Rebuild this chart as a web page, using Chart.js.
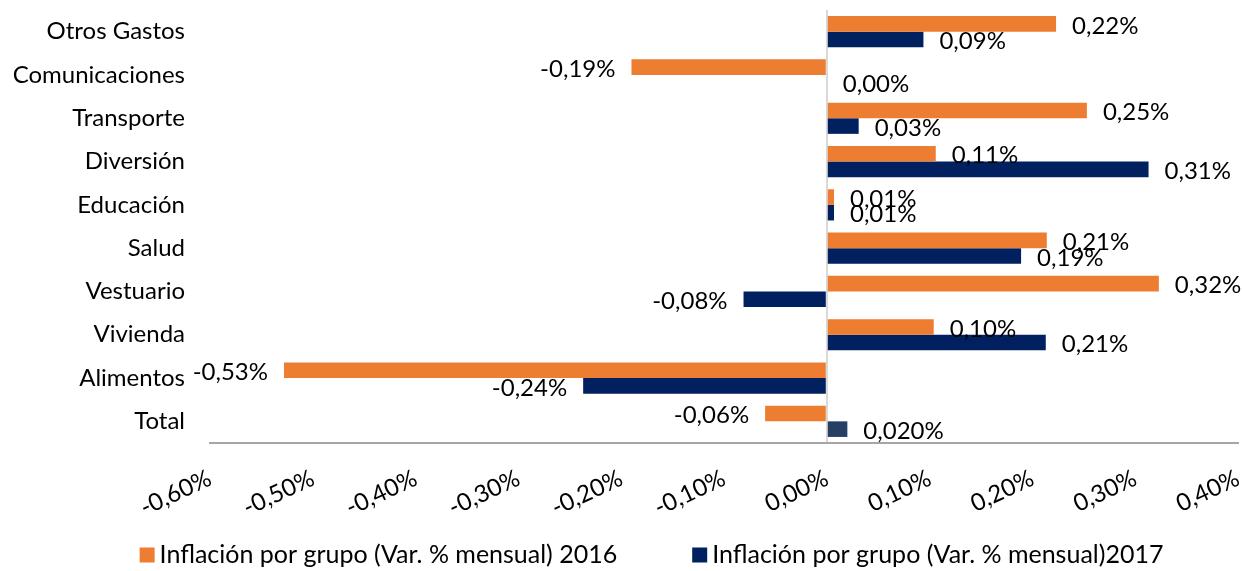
<!DOCTYPE html>
<html>
<head>
<meta charset="utf-8">
<script src="https://cdn.jsdelivr.net/npm/chart.js@4.4.1/dist/chart.umd.min.js"></script>
<style>
  html, body { margin: 0; padding: 0; background: #ffffff; }
  #wrap { width: 1243px; height: 571px; position: relative; }
</style>
</head>
<body>
<div id="wrap"><canvas id="c"></canvas></div>
<script>
const categories = ['Otros Gastos', 'Comunicaciones', 'Transporte', 'Diversión', 'Educación', 'Salud', 'Vestuario', 'Vivienda', 'Alimentos', 'Total'];
const values2016 = [0.223, -0.19, 0.253, 0.106, 0.007, 0.214, 0.323, 0.104, -0.528, -0.060];
const values2017 = [0.094, 0.0, 0.031, 0.313, 0.007, 0.189, -0.081, 0.213, -0.237, 0.020];
const decimals2016 = [2, 2, 2, 2, 2, 2, 2, 2, 2, 2];
const decimals2017 = [2, 2, 2, 2, 2, 2, 2, 2, 2, 3];
const xTicks = [-0.6, -0.5, -0.4, -0.3, -0.2, -0.1, 0, 0.1, 0.2, 0.3, 0.4];
const seriesNames = ['Inflación por grupo (Var. % mensual) 2016', 'Inflación por grupo (Var. % mensual)2017'];

const ORANGE = '#ED7D31';
const NAVY = '#002060';
const SLATE = '#263F63';
const FONT = 'Lato';

function fmt(v, d) {
  if (Math.abs(v) < 1e-9) v = 0;
  return v.toFixed(d).replace('.', ',') + '%';
}

const labelPlugin = {
  id: 'barLabels',
  afterDatasetsDraw(chart) {
    const ctx = chart.ctx;
    ctx.save();
    ctx.font = '24px ' + FONT;
    ctx.fillStyle = '#000000';
    ctx.textBaseline = 'middle';
    chart.data.datasets.forEach((ds, di) => {
      const meta = chart.getDatasetMeta(di);
      meta.data.forEach((el, i) => {
        const v = ds.data[i];
        const txt = fmt(v, ds.decimals[i]);
        if (v < 0) {
          ctx.textAlign = 'right';
          ctx.fillText(txt, el.x - 16, el.y + 2);
        } else {
          ctx.textAlign = 'left';
          ctx.fillText(txt, el.x + 16, el.y + 2);
        }
      });
    });
    ctx.restore();
  }
};

const legendPlugin = {
  id: 'bottomLegend',
  afterDraw(chart) {
    const ctx = chart.ctx;
    ctx.save();
    ctx.font = '25px ' + FONT;
    ctx.textBaseline = 'middle';
    ctx.textAlign = 'left';
    const box = 15, gapBoxText = 5, gapItems = 75;
    const colors = [ORANGE, NAVY];
    const widths = seriesNames.map(t => box + gapBoxText + ctx.measureText(t).width);
    const total = widths[0] + gapItems + widths[1];
    let x = (chart.width - total) / 2 + 30;
    const y = 555;
    seriesNames.forEach((t, i) => {
      ctx.fillStyle = colors[i];
      ctx.fillRect(x, y - box / 2, box, box);
      ctx.fillStyle = '#000000';
      ctx.fillText(t, x + box + gapBoxText, y);
      x += widths[i] + gapItems;
    });
    ctx.restore();
  }
};

new Chart(document.getElementById('c'), {
  type: 'bar',
  data: {
    labels: categories,
    datasets: [
      {
        label: seriesNames[0],
        data: values2016,
        decimals: decimals2016,
        backgroundColor: ORANGE,
        categoryPercentage: 0.72,
        barPercentage: 1.0
      },
      {
        label: seriesNames[1],
        data: values2017,
        decimals: decimals2017,
        backgroundColor: values2017.map((v, i) => i === categories.length - 1 ? SLATE : NAVY),
        categoryPercentage: 0.72,
        barPercentage: 1.0
      }
    ]
  },
  options: {
    indexAxis: 'y',
    responsive: true,
    maintainAspectRatio: false,
    animation: false,
    layout: { padding: { top: 10, right: 5, bottom: 0, left: 0 } },
    plugins: {
      tooltip: { enabled: false },
      legend: { display: false }
    },
    scales: {
      x: {
        type: 'linear',
        min: -0.6,
        max: 0.4,
        afterBuildTicks(scale) { scale.ticks = xTicks.map(v => ({ value: v })); },
        afterFit(scale) {
          scale.height = 128;
          scale.paddingLeft = 0;
          scale.paddingRight = 0;
        },
        ticks: {
          minRotation: 25,
          maxRotation: 25,
          padding: 21,
          color: '#000000',
          font: { family: FONT, size: 24 },
          callback: (v) => fmt(v, 2)
        },
        grid: {
          drawTicks: false,
          lineWidth: 2,
          color: (c) => (c.tick && Math.abs(c.tick.value) < 1e-9) ? '#D9D9D9' : 'rgba(0,0,0,0)'
        },
        border: { display: true, color: '#A6A6A6', width: 2 }
      },
      y: {
        type: 'category',
        afterFit(scale) {
          scale.width = 210;
          scale.paddingTop = 0;
          scale.paddingBottom = 0;
        },
        grid: { display: false },
        border: { display: false },
        ticks: {
          padding: 17,
          color: '#000000',
          font: { family: FONT, size: 24 }
        }
      }
    }
  },
  plugins: [labelPlugin, legendPlugin]
});
</script>
</body>
</html>
